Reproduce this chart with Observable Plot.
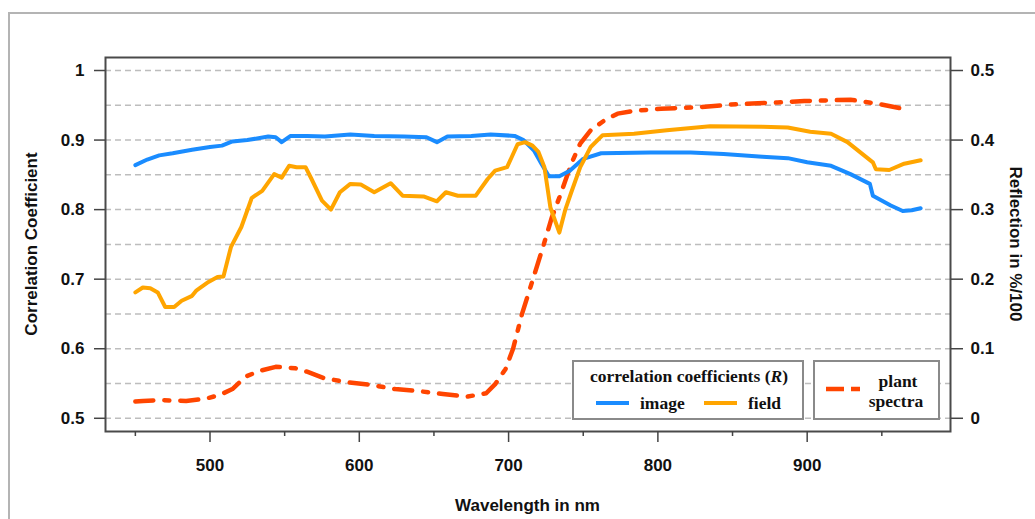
<!DOCTYPE html>
<html>
<head>
<meta charset="utf-8">
<script src="https://cdn.jsdelivr.net/npm/d3@7"></script>
<script src="https://cdn.jsdelivr.net/npm/@observablehq/plot@0.6"></script>
<style>
  html, body { margin: 0; padding: 0; background: #fff; }
  #wrap { position: relative; width: 1035px; height: 519px; overflow: hidden; font-family: "Liberation Sans", Arial, sans-serif; }
  #outer { position: absolute; left: 8px; top: 12px; width: 1100px; height: 600px; border-top: 2px solid #b4b4b4; border-left: 2px solid #b4b4b4; }
  #chart { position: absolute; left: 0; top: 0; }
  .atitle { position: absolute; font-weight: bold; font-size: 17px; color: #111; white-space: nowrap; }
  .leg { position: absolute; box-sizing: border-box; border: 2px solid #8a8a8a; background: #fff; font-family: "Liberation Serif", "Times New Roman", serif; font-weight: bold; font-size: 17.5px; color: #111; }
  .leg span { position: absolute; white-space: nowrap; transform: translate(-50%, -50%); }
  .leg .l { transform: translate(0, -50%); }
  .sw { position: absolute; height: 4px; }
</style>
</head>
<body>
<div id="wrap">
  <div id="outer"></div>
  <div id="chart"></div>
</div>
<script>
// ---- data ----
const imageNm = [450,458,466,475,488,500,508,515,525,539,544,548,554,565,577,594,610,630,645,652,659,675,688,704,710,717,722,727,734,741,750,762,795,822,844,870,887,900,916,929,942,944,956,964,970,976];
const imageR  = [0.864,0.872,0.878,0.881,0.886,0.890,0.892,0.898,0.900,0.905,0.904,0.897,0.906,0.906,0.905,0.908,0.906,0.905,0.904,0.897,0.905,0.906,0.908,0.906,0.900,0.885,0.866,0.848,0.848,0.856,0.873,0.881,0.882,0.882,0.880,0.876,0.874,0.868,0.863,0.851,0.837,0.820,0.806,0.798,0.799,0.802];

const fieldNm = [450,455,460,465,470,476,481,488,491,499,505,509,514,521,528,535,543,548,553,558,564,568,575,581,587,594,601,610,621,629,643,652,658,666,678,686,691,699,706,711,716,720,724,728,734,738,742,748,755,763,784,806,835,870,887,902,916,927,944,946,955,965,976];
const fieldR  = [0.681,0.688,0.687,0.681,0.660,0.660,0.669,0.676,0.684,0.696,0.703,0.704,0.746,0.775,0.817,0.827,0.851,0.846,0.863,0.861,0.861,0.844,0.813,0.800,0.825,0.837,0.836,0.825,0.838,0.820,0.819,0.812,0.825,0.820,0.820,0.844,0.856,0.861,0.894,0.897,0.892,0.883,0.861,0.803,0.767,0.800,0.825,0.861,0.890,0.907,0.909,0.914,0.920,0.919,0.918,0.912,0.909,0.897,0.868,0.858,0.857,0.866,0.871];

const spectraNm   = [450,455,468,484,497,507,515,524,533,544,557,565,576,591,608,624,640,656,672,685,691,698,703,709,716,723,729,735,742,748,755,764,773,784,802,826,849,867,880,898,913,929,945,962,967];
const spectraRefl = [0.024,0.025,0.026,0.025,0.028,0.034,0.042,0.060,0.068,0.074,0.072,0.067,0.058,0.052,0.048,0.042,0.039,0.035,0.031,0.036,0.049,0.071,0.100,0.150,0.198,0.246,0.289,0.323,0.366,0.395,0.414,0.428,0.438,0.442,0.445,0.447,0.451,0.453,0.454,0.456,0.457,0.458,0.453,0.446,0.446];

const leftTicks   = [0.5,0.6,0.7,0.8,0.9,1.0];
const leftLabels  = ["0.5","0.6","0.7","0.8","0.9","1"];
const rightTicks  = [0,0.1,0.2,0.3,0.4,0.5];
const rightLabels = ["0","0.1","0.2","0.3","0.4","0.5"];
const gridTicks   = [0.5,0.55,0.6,0.65,0.7,0.75,0.8,0.85,0.9,0.95,1.0];
const xMajor      = [500,600,700,800,900];
const xMinor      = [450,550,650,750,850,950];
const reflOffset  = 0.5; // right axis 0 aligns with left axis 0.5

const imageData   = imageNm.map((nm, i) => ({nm, v: imageR[i]}));
const fieldData   = fieldNm.map((nm, i) => ({nm, v: fieldR[i]}));
const spectraData = spectraNm.map((nm, i) => ({nm, v: spectraRefl[i] + reflOffset}));

const plot = Plot.plot({
  width: 1035,
  height: 519,
  marginTop: 57,
  marginRight: 85,
  marginBottom: 88,
  marginLeft: 105,
  style: {fontFamily: "'Liberation Sans', Arial, sans-serif", fontSize: "17px", fontWeight: "bold", background: "transparent", color: "#111"},
  x: {domain: [430, 996]},
  y: {domain: [0.481, 1.0187]},
  marks: [
    Plot.gridY({ticks: gridTicks, stroke: "#bdbdbd", strokeOpacity: 1, strokeWidth: 1.5, strokeDasharray: "6,4"}),
    Plot.line(spectraData, {x: "nm", y: "v", stroke: "#ff4500", strokeWidth: 4.5, strokeDasharray: "18,11,5,11"}),
    Plot.line(imageData, {x: "nm", y: "v", stroke: "#1a8cff", strokeWidth: 4}),
    Plot.line(fieldData, {x: "nm", y: "v", stroke: "#ffa500", strokeWidth: 4}),
    Plot.frame({stroke: "#4a4a4a", strokeWidth: 2}),
    Plot.axisX({ticks: xMajor, tickSize: 11, tickPadding: 16, tickFormat: d => String(d), stroke: "#444", strokeWidth: 1.5, fill: "#111", label: null}),
    Plot.axisX({ticks: xMinor, tickSize: 5, tickFormat: () => "", stroke: "#444", strokeWidth: 1.5, label: null}),
    Plot.axisY({anchor: "left", ticks: leftTicks, tickSize: 11, tickPadding: 10, tickFormat: d => leftLabels[leftTicks.findIndex(t => Math.abs(t - d) < 1e-9)], stroke: "#444", strokeWidth: 1.5, fill: "#111", label: null}),
    Plot.axisY({anchor: "right", ticks: rightTicks.map(t => t + reflOffset), tickSize: 12, tickPadding: 8, tickFormat: d => rightLabels[rightTicks.findIndex(t => Math.abs(t + reflOffset - d) < 1e-9)], stroke: "#444", strokeWidth: 1.5, fill: "#111", label: null})
  ]
});
document.getElementById("chart").appendChild(plot);

const wrap = document.getElementById("wrap");
function addTitle(text, x, y, rot) {
  const s = document.createElement("div");
  s.className = "atitle";
  s.textContent = text;
  s.style.left = x + "px";
  s.style.top = y + "px";
  s.style.transform = "translate(-50%, -50%)" + (rot ? ` rotate(${rot}deg)` : "");
  wrap.appendChild(s);
}
addTitle("Wavelength in nm", 527.5, 506, 0);
addTitle("Correlation Coefficient", 32, 244, -90);
addTitle("Reflection in %/100", 1015, 244, 90);

// legend box 1
const leg1 = document.createElement("div");
leg1.className = "leg";
Object.assign(leg1.style, {left: "572px", top: "360px", width: "232px", height: "60px"});
leg1.innerHTML = `
  <span style="left:115px; top:14px">correlation coefficients (<i>R</i>)</span>
  <div class="sw" style="left:22px; top:39px; width:33px; background:#1a8cff"></div>
  <span class="l" style="left:66px; top:41px">image</span>
  <div class="sw" style="left:130px; top:39px; width:33px; background:#ffa500"></div>
  <span class="l" style="left:174px; top:41px">field</span>`;
wrap.appendChild(leg1);

// legend box 2
const leg2 = document.createElement("div");
leg2.className = "leg";
Object.assign(leg2.style, {left: "813px", top: "360px", width: "127px", height: "60px"});
leg2.innerHTML = `
  <svg style="position:absolute; left:10px; top:24px" width="36" height="6"><line x1="1" y1="3" x2="35" y2="3" stroke="#ff4500" stroke-width="4.5" stroke-dasharray="18,7,9"/></svg>
  <span style="left:83px; top:19px">plant</span>
  <span style="left:81px; top:39px">spectra</span>`;
wrap.appendChild(leg2);
</script>
</body>
</html>
